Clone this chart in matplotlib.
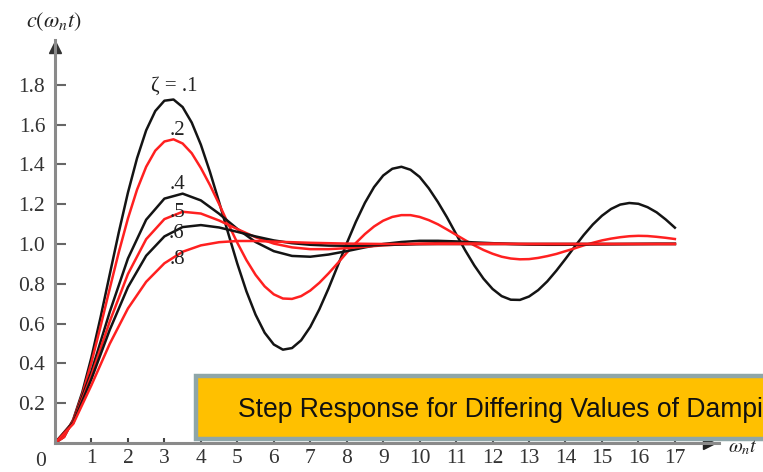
import matplotlib.pyplot as plt
from matplotlib.patches import FancyBboxPatch

plt.rcParams['font.family'] = ['Liberation Serif', 'DejaVu Serif']
plt.rcParams['mathtext.fontset'] = 'stix'

# normalized time w_n*t: quarter-unit grid for the lightly damped curves,
# half-unit grid for the rest
t_fine = [0.0, 0.25, 0.5, 0.75, 1.0, 1.25, 1.5, 1.75,
          2.0, 2.25, 2.5, 2.75, 3.0, 3.25, 3.5, 3.75,
          4.0, 4.25, 4.5, 4.75, 5.0, 5.25, 5.5, 5.75,
          6.0, 6.25, 6.5, 6.75, 7.0, 7.25, 7.5, 7.75,
          8.0, 8.25, 8.5, 8.75, 9.0, 9.25, 9.5, 9.75,
          10.0, 10.25, 10.5, 10.75, 11.0, 11.25, 11.5, 11.75,
          12.0, 12.25, 12.5, 12.75, 13.0, 13.25, 13.5, 13.75,
          14.0, 14.25, 14.5, 14.75, 15.0, 15.25, 15.5, 15.75,
          16.0, 16.25, 16.5, 16.75, 17.0]
t = [0.0, 0.5, 1.0, 1.5, 2.0, 2.5, 3.0, 3.5, 4.0, 4.5,
     5.0, 5.5, 6.0, 6.5, 7.0, 7.5, 8.0, 8.5, 9.0, 9.5,
     10.0, 10.5, 11.0, 11.5, 12.0, 12.5, 13.0, 13.5, 14.0, 14.5,
     15.0, 15.5, 16.0, 16.5, 17.0]

# step response c(w_n t) for each damping ratio
zeta_01 = [0.000, 0.031, 0.118, 0.256, 0.431, 0.632, 0.846, 1.059,
           1.258, 1.431, 1.571, 1.668, 1.720, 1.726, 1.688, 1.610,
           1.499, 1.362, 1.211, 1.054, 0.901, 0.762, 0.645, 0.554,
           0.495, 0.469, 0.477, 0.516, 0.583, 0.672, 0.776, 0.889,
           1.003, 1.111, 1.207, 1.286, 1.344, 1.378, 1.388, 1.373,
           1.337, 1.280, 1.211, 1.134, 1.050, 0.968, 0.892, 0.826,
           0.774, 0.738, 0.720, 0.719, 0.736, 0.768, 0.812, 0.866,
           0.925, 0.986, 1.045, 1.098, 1.142, 1.176, 1.198, 1.206,
           1.202, 1.185, 1.159, 1.123, 1.082]
zeta_02 = [0.000, 0.030, 0.115, 0.244, 0.405, 0.586, 0.775, 0.959,
           1.128, 1.273, 1.388, 1.469, 1.515, 1.526, 1.505, 1.456,
           1.382, 1.296, 1.201, 1.101, 1.006, 0.919, 0.845, 0.787,
           0.747, 0.726, 0.724, 0.738, 0.766, 0.805, 0.852, 0.903,
           0.956, 1.005, 1.050, 1.088, 1.117, 1.136, 1.145, 1.145,
           1.136, 1.120, 1.099, 1.073, 1.046, 1.019, 0.993, 0.970,
           0.951, 0.936, 0.927, 0.923, 0.924, 0.930, 0.939, 0.950,
           0.964, 0.978, 0.993, 1.006, 1.018, 1.027, 1.034, 1.039,
           1.041, 1.040, 1.036, 1.031, 1.025]
zeta_04 = [0.00, 0.108, 0.360, 0.658, 0.927, 1.122, 1.228, 1.253, 1.219, 1.152,
           1.076, 1.010, 0.964, 0.940, 0.936, 0.947, 0.964, 0.983, 1.000, 1.010,
           1.016, 1.016, 1.013, 1.008, 1.004, 1.000, 0.997, 0.996, 0.996, 0.997,
           0.998, 0.999, 1.000, 1.001, 1.001]
zeta_05 = [0.00, 0.104, 0.340, 0.610, 0.849, 1.024, 1.125, 1.162, 1.153, 1.118,
           1.075, 1.034, 1.002, 0.983, 0.974, 0.974, 0.979, 0.986, 0.993, 0.998,
           1.002, 1.004, 1.004, 1.004, 1.003, 1.001, 1.000, 1.000, 1.000, 1.000,
           1.000, 1.000, 1.000, 1.000, 1.000]
zeta_06 = [0.00, 0.101, 0.322, 0.568, 0.783, 0.941, 1.038, 1.085, 1.095, 1.083,
           1.061, 1.038, 1.018, 1.004, 0.996, 0.992, 0.991, 0.992, 0.995, 0.997,
           0.999, 1.000, 1.000, 1.000, 1.000, 1.000, 1.000, 1.000, 1.000, 1.000,
           1.000, 1.000, 1.000, 1.000, 1.000]
zeta_08 = [0.00, 0.096, 0.291, 0.498, 0.676, 0.810, 0.903, 0.961, 0.993, 1.009,
           1.015, 1.015, 1.012, 1.009, 1.006, 1.004, 1.002, 1.001, 1.000, 1.000,
           1.000, 1.000, 1.000, 1.000, 1.000, 1.000, 1.000, 1.000, 1.000, 1.000,
           1.000, 1.000, 1.000, 1.000, 1.000]

curve_labels = ['\u03b6 = .1', '.2', '.4', '.5', '.6', '.8']
x_ticks = list(range(1, 18))
y_ticks = [0.2, 0.4, 0.6, 0.8, 1.0, 1.2, 1.4, 1.6, 1.8]

W, H = 763, 472
fig = plt.figure(figsize=(W / 100, H / 100), dpi=100)
ax = fig.add_axes([55 / W, 29 / H, 664 / W, 403 / H])
ax.set_xlim(0, 18.21)
ax.set_ylim(0, 2.025)

series = [(t_fine, zeta_01), (t_fine, zeta_02), (t, zeta_04),
          (t, zeta_05), (t, zeta_06), (t, zeta_08)]
colors = ['#141414', '#ff2020', '#141414', '#ff2020', '#141414', '#ff2020']
for (x, y), c in zip(series, colors):
    ax.plot(x, y, color=c, lw=1.8, solid_joinstyle='round')

# curve tags, placed just left of each first peak
tag_xy = [(3.26, 1.79), (3.37, 1.57), (3.37, 1.30), (3.37, 1.16), (3.32, 1.055), (3.35, 0.92)]
for s, (x, y) in zip(curve_labels, tag_xy):
    ax.text(x, y, s, ha='center', va='center', fontsize=15, color='#222222')

for side in ['top', 'right']:
    ax.spines[side].set_visible(False)
for side in ['left', 'bottom']:
    ax.spines[side].set_color('#8a8a8a')
    ax.spines[side].set_linewidth(2.2)

ax.set_xticks(x_ticks)
ax.set_xticklabels([str(v) for v in x_ticks])
ax.set_yticks(y_ticks)
ax.set_yticklabels(['%.1f' % v for v in y_ticks])
ax.tick_params(axis='y', direction='in', length=8, width=1.5, color='#666666',
               pad=7, labelsize=15.5, labelcolor='#333333')
ax.tick_params(axis='x', direction='in', length=3.5, width=1.5, color='#444444',
               pad=4, labelsize=15.5, labelcolor='#333333')

# arrow heads on both axes
ax.plot(0.985, 0, marker='>', ms=9, color='#222222', transform=ax.transAxes, clip_on=False)
ax.plot(0, 0.983, marker='^', ms=9, color='#333333', transform=ax.transAxes, clip_on=False)

fig.text(41 / W, 1 - 461 / H, '0', ha='center', va='center', fontsize=15.5, color='#333333')
fig.text(54 / W, 1 - 22 / H, r'$c(\omega_n t)$', ha='center', va='center', fontsize=16, color='#222222')
fig.text(743 / W, 1 - 448 / H, r'$\omega_n t$', ha='center', va='center', fontsize=14.5, color='#222222')

# caption banner running off the right edge
banner = FancyBboxPatch((196 / W, 1 - 439 / H), 620 / W, 63 / H,
                        boxstyle='square,pad=0', transform=fig.transFigure,
                        facecolor='#ffc000', edgecolor='#8fa6a8', linewidth=3.2)
fig.add_artist(banner)
fig.text(238 / W, 1 - 417 / H, 'Step Response for Differing Values of Damping',
         ha='left', va='baseline', fontsize=19.1, family='Liberation Sans', color='#111111')

fig.savefig('out.png', dpi=100)
